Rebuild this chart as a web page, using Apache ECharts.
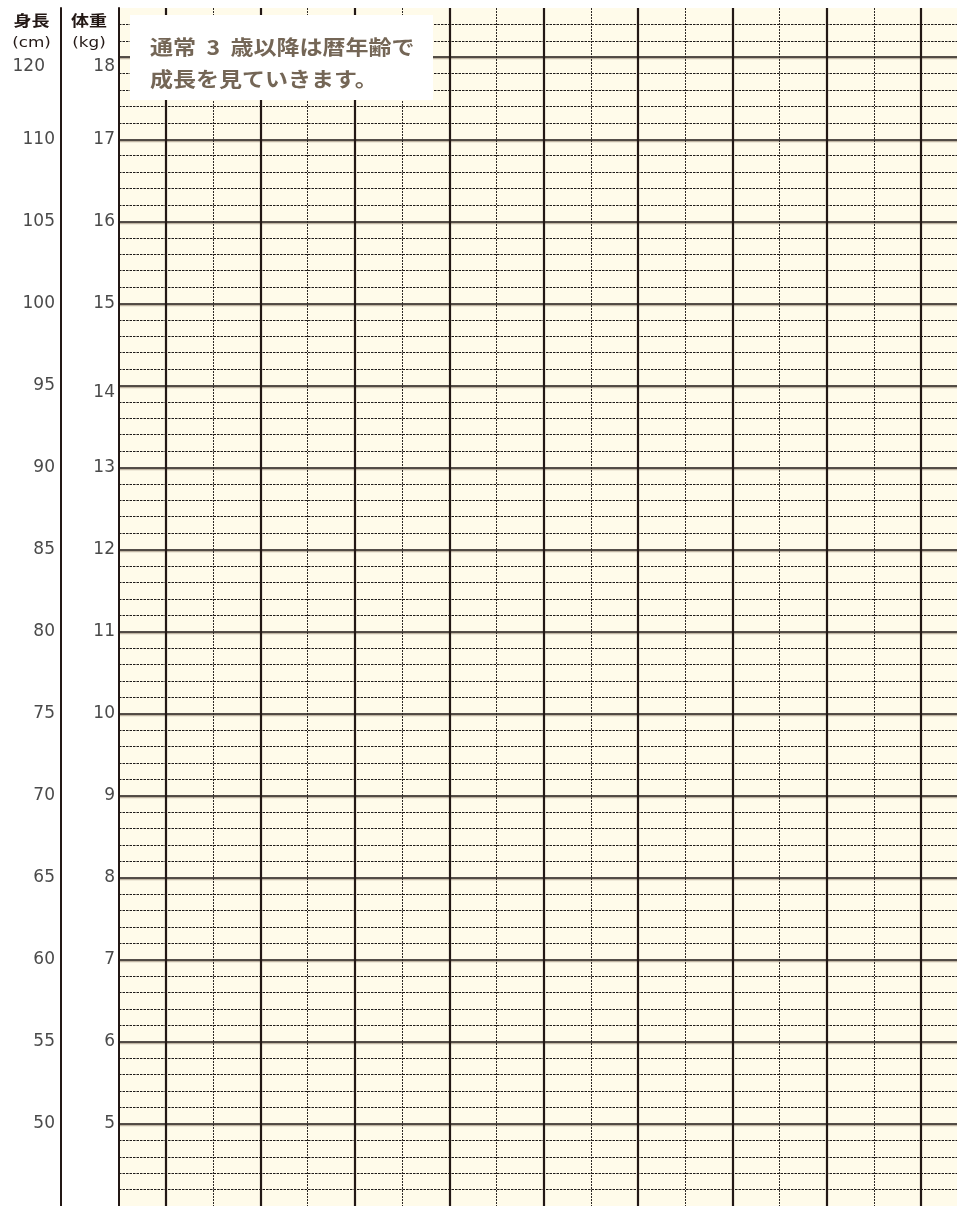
<!DOCTYPE html>
<html><head><meta charset="utf-8">
<script src="https://cdn.jsdelivr.net/npm/echarts@6/dist/echarts.min.js"></script>
<style>html,body{margin:0;padding:0;background:#fff;}#c{width:957px;height:1206px;}</style>
</head><body><div id="c"></div>
<script>
// ---- data ----
const columnCount = 17.76;                                   // visible columns (right edge is cut)
const solidColumns = [1, 3, 5, 7, 9, 11, 13, 15, 17];        // heavy vertical rules
const weightTicks = [5, 6, 7, 8, 9, 10, 11, 12, 13, 14, 15, 16, 17, 18];
const heightTicks = [50, 55, 60, 65, 70, 75, 80, 85, 90, 95, 100, 105, 110, 120];
const weightRange = [4, 18.6];
const heightHeader = ['身長', '(cm)'];
const weightHeader = ['体重', '(kg)'];
const noteLines = ['通常  3  歳以降は暦年齢で', '成長を見ていきます。'];

// ---- label placement tweaks (style, not data) ----
const weightShift = { 18: { down: 9 }, 14: { down: 7 } };
const heightShift = { 120: { down: 9, left: true } };

function fmt(text, shift) {
  if (!shift) return '{v|' + text + '}';
  let s = '';
  if (shift.down) s = '{g' + shift.down + '| }\n';
  return s + '{' + (shift.left ? 'vl' : 'v') + '|' + text + '}';
}
const rich = {
  v: { lineHeight: 18 },
  vl: { lineHeight: 18, padding: [0, 10, 0, 0] },
  g9: { lineHeight: 18, fontSize: 1 },
  g7: { lineHeight: 14, fontSize: 1 }
};
const ink = '#231815';
const labelStyle = { fontFamily: 'DejaVu Sans', fontSize: 17, color: '#4a4a4a', rich: rich };

const chart = echarts.init(document.getElementById('c'), null, { renderer: 'canvas' });
chart.setOption({
  animation: false,
  backgroundColor: '#ffffff',
  grid: { left: 119, top: 8, right: 0, bottom: -2.4, show: true, backgroundColor: '#FFFBEA', borderWidth: 0 },
  xAxis: [
    {
      type: 'value', min: 0, max: columnCount, interval: 1, position: 'bottom',
      axisLine: { show: false }, axisTick: { show: false }, axisLabel: { show: false },
      splitLine: { show: true, showMinLine: false, showMaxLine: false,
        lineStyle: { color: '#2e2926', width: 1, type: [2, 1] } }
    }
  ],
  yAxis: [
    {
      type: 'value', position: 'left', min: weightRange[0], max: weightRange[1], interval: 1,
      axisLine: { show: true, lineStyle: { color: ink, width: 2 } },
      axisTick: { show: false },
      minorTick: { show: false, splitNumber: 5 },
      axisLabel: Object.assign({ margin: 4, formatter: function (v) {
        const r = Math.round(v);
        if (Math.abs(v - r) > 1e-6 || weightTicks.indexOf(r) < 0) return '';
        return fmt(String(r), weightShift[r]);
      } }, labelStyle),
      splitLine: { show: true, showMinLine: false, showMaxLine: false,
        lineStyle: { color: '#1c1412', width: 1.5, shadowColor: 'rgba(150,135,115,0.6)', shadowOffsetY: 1.5, shadowBlur: 0 } },
      minorSplitLine: { show: true, lineStyle: { color: '#1e1a18', width: 1.1, type: [2.5, 1] } }
    },
    {
      type: 'value', position: 'left', offset: 58, min: weightRange[0], max: weightRange[1], interval: 1,
      axisLine: { show: true, onZero: false, lineStyle: { color: ink, width: 2 } },
      axisTick: { show: false },
      axisLabel: Object.assign({ margin: 6, formatter: function (v) {
        const r = Math.round(v);
        const i = weightTicks.indexOf(r);
        if (Math.abs(v - r) > 1e-6 || i < 0) return '';
        const h = heightTicks[i];
        return fmt(String(h), heightShift[h]);
      } }, labelStyle),
      splitLine: { show: false }
    }
  ],
  series: [{
    type: 'line', xAxisIndex: 0, yAxisIndex: 0, data: [], silent: true,
    markLine: {
      silent: true, symbol: ['none', 'none'], label: { show: false },
      lineStyle: { color: ink, width: 2.2, type: 'solid' },
      emphasis: { disabled: true },
      data: solidColumns.map(function (c) { return { xAxis: c }; })
    }
  }],
  graphic: [
    { type: 'text', x: 31.5, y: 20, scaleX: 1.2, z: 100,
      style: { text: heightHeader[0], font: 'bold 15px "Noto Sans CJK JP"', fill: ink, align: 'center', verticalAlign: 'middle' } },
    { type: 'text', x: 31.5, y: 43, scaleX: 1.2, z: 100,
      style: { text: heightHeader[1], font: '14px "DejaVu Sans"', fill: ink, align: 'center', verticalAlign: 'middle' } },
    { type: 'text', x: 89, y: 20, scaleX: 1.2, z: 100,
      style: { text: weightHeader[0], font: 'bold 15px "Noto Sans CJK JP"', fill: ink, align: 'center', verticalAlign: 'middle' } },
    { type: 'text', x: 89, y: 43, scaleX: 1.2, z: 100,
      style: { text: weightHeader[1], font: '14px "DejaVu Sans"', fill: ink, align: 'center', verticalAlign: 'middle' } },
    { type: 'rect', z: 100, shape: { x: 130, y: 15, width: 303, height: 85 }, style: { fill: '#ffffff' } },
    { type: 'text', x: 150, y: 47, scaleX: 1.15, z: 101,
      style: { text: noteLines[0], font: 'bold 20px "Noto Sans CJK JP"', fill: '#746656', align: 'left', verticalAlign: 'middle' } },
    { type: 'text', x: 150, y: 79, scaleX: 1.15, z: 101,
      style: { text: noteLines[1], font: 'bold 20px "Noto Sans CJK JP"', fill: '#746656', align: 'left', verticalAlign: 'middle' } }
  ]
});
</script>
</body></html>
